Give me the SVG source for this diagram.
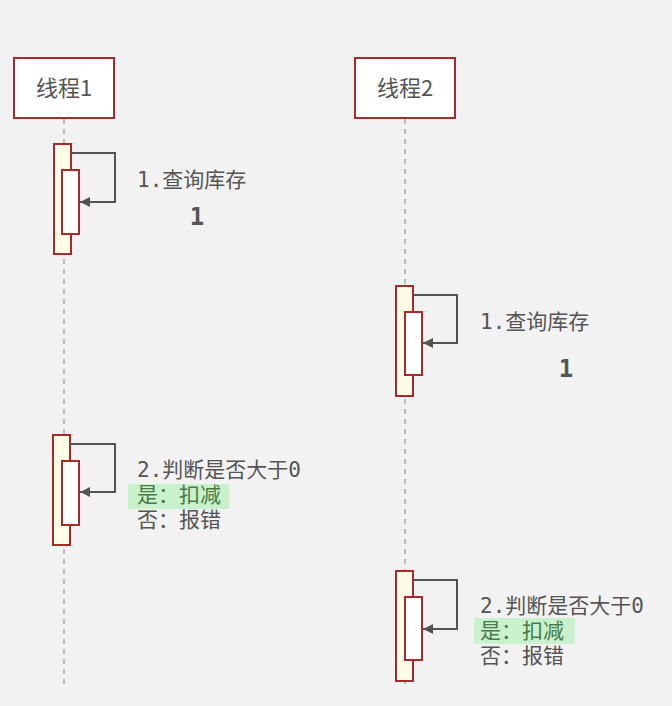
<svg xmlns="http://www.w3.org/2000/svg" width="672" height="706" viewBox="0 0 672 706">
<style>
.bg{fill:#f2f2f2}
.head{fill:#ffffff;stroke:#aa2a2a;stroke-width:2}
.act{fill:#fffde6;stroke:#aa2a2a;stroke-width:2}
.inner{fill:#ffffff;stroke:#aa2a2a;stroke-width:2}
.life{stroke:#bbbbbb;stroke-width:2;stroke-dasharray:5 5;fill:none}
.msg{stroke:#4f5555;stroke-width:2;fill:none}
.t{font-family:"DejaVu Sans Mono","Noto Sans CJK SC",monospace;font-size:21px;fill:#555555}
.title{font-family:"Noto Sans CJK SC","Noto Sans",sans-serif;font-size:22px;fill:#555555;text-anchor:middle}
.big{font-family:"DejaVu Sans Mono",monospace;font-size:24px;font-weight:bold;fill:#555555;text-anchor:middle}
.hl{fill:#c9f2cc}
.g{fill:#4a7a4a}
</style>
<defs>
<marker id="ah" viewBox="0 0 10 10" refX="10" refY="5" markerWidth="10" markerHeight="10" markerUnits="userSpaceOnUse" orient="auto">
<path d="M0,0 L10,5 L0,10 Z" fill="#4f5555"/>
</marker>
</defs>
<rect class="bg" x="0" y="0" width="672" height="706"/>
<g id="lifelines">
<line class="life" x1="64" y1="119" x2="64" y2="688"/>
<line class="life" x1="405" y1="119" x2="405" y2="688"/>
</g>
<g id="thread1">
<rect class="head" x="14" y="58" width="100" height="60"/>
<text class="title" x="64" y="96">线程1</text>
</g>
<g id="thread2">
<rect class="head" x="355" y="58" width="100" height="60"/>
<text class="title" x="405" y="96">线程2</text>
</g>
<g id="t1-act1">
<rect class="act" x="54" y="144" width="17" height="110"/>
<rect class="inner" x="62" y="170" width="17" height="64"/>
</g>
<g id="t1-act2">
<rect class="act" x="53" y="435" width="17" height="110"/>
<rect class="inner" x="62" y="461" width="17" height="64"/>
</g>
<g id="t2-act1">
<rect class="act" x="396" y="286" width="17" height="110"/>
<rect class="inner" x="405" y="312" width="17" height="63"/>
</g>
<g id="t2-act2">
<rect class="act" x="396" y="571" width="17" height="110"/>
<rect class="inner" x="405" y="597" width="17" height="63"/>
</g>
<g id="connectors">
<polyline class="msg" points="71,153 115,153 115,202 80,202" marker-end="url(#ah)"/>
<polyline class="msg" points="70,444 115,444 115,492 80,492" marker-end="url(#ah)"/>
<polyline class="msg" points="413,295 457,295 457,343 423,343" marker-end="url(#ah)"/>
<polyline class="msg" points="413,580 457,580 457,629 423,629" marker-end="url(#ah)"/>
</g>
<g id="labels">
<text class="t" x="137" y="187">1.查询库存</text>
<text class="big" x="197" y="225">1</text>
<text class="t" x="480" y="329">1.查询库存</text>
<text class="big" x="566" y="377">1</text>
<rect class="hl" x="128" y="484" width="101" height="25"/>
<text class="t" x="137" y="477">2.判断是否大于0</text>
<text class="t g" x="137" y="502">是：扣减</text>
<text class="t" x="137" y="527">否：报错</text>
<rect class="hl" x="474" y="618" width="101" height="26"/>
<text class="t" x="480" y="613">2.判断是否大于0</text>
<text class="t g" x="480" y="638">是：扣减</text>
<text class="t" x="480" y="663">否：报错</text>
</g>
</svg>
